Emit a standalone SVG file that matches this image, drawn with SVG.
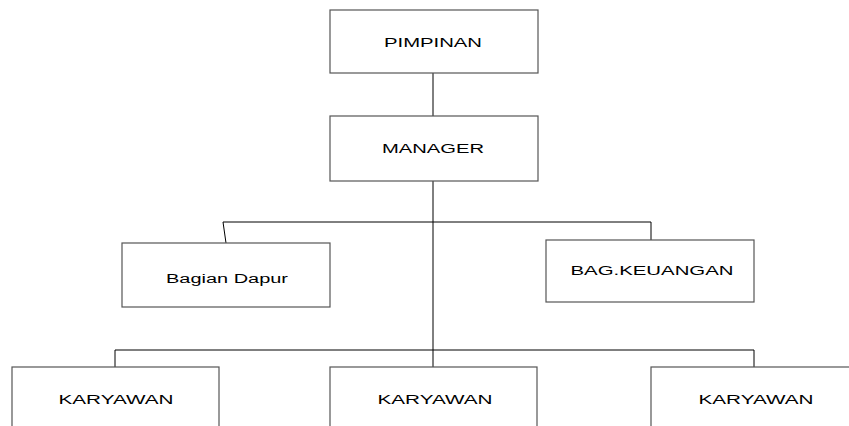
<svg xmlns="http://www.w3.org/2000/svg" width="849" height="426" viewBox="0 0 849 426">
<style>
.box{fill:#fff;stroke:#555;stroke-width:1.2}
.lbl{font-family:"Liberation Sans",Arial,sans-serif;font-size:12px;fill:#000;text-anchor:middle}
.con{fill:none;stroke:#000;stroke-width:1}
</style>
<rect width="849" height="426" fill="#fff"/>
<g id="connectors">
<line class="con" x1="433" y1="73" x2="433" y2="116"/>
<line class="con" x1="433" y1="181" x2="433" y2="367"/>
<polyline class="con" points="226,243 223,222 651,222 651,240"/>
<polyline class="con" points="115,367 115,350 754,350 754,367"/>
</g>
<g id="pimpinan"><rect class="box" x="330" y="10" width="208" height="63"/><text class="lbl" x="433" y="47" textLength="98" lengthAdjust="spacingAndGlyphs">PIMPINAN</text></g>
<g id="manager"><rect class="box" x="330" y="116" width="208" height="65"/><text class="lbl" x="433" y="153" textLength="102" lengthAdjust="spacingAndGlyphs">MANAGER</text></g>
<g id="bagian-dapur"><rect class="box" x="122" y="243" width="208" height="64"/><text class="lbl" x="227" y="283" textLength="122" lengthAdjust="spacingAndGlyphs">Bagian Dapur</text></g>
<g id="bag-keuangan"><rect class="box" x="546" y="240" width="208" height="62"/><text class="lbl" x="652" y="275" textLength="163" lengthAdjust="spacingAndGlyphs">BAG.KEUANGAN</text></g>
<g id="karyawan-1"><rect class="box" x="12" y="367" width="207" height="80"/><text class="lbl" x="116" y="404" textLength="115" lengthAdjust="spacingAndGlyphs">KARYAWAN</text></g>
<g id="karyawan-2"><rect class="box" x="330" y="367" width="207" height="80"/><text class="lbl" x="435" y="404" textLength="115" lengthAdjust="spacingAndGlyphs">KARYAWAN</text></g>
<g id="karyawan-3"><rect class="box" x="651" y="367" width="207" height="80"/><text class="lbl" x="756" y="404" textLength="115" lengthAdjust="spacingAndGlyphs">KARYAWAN</text></g>
</svg>
